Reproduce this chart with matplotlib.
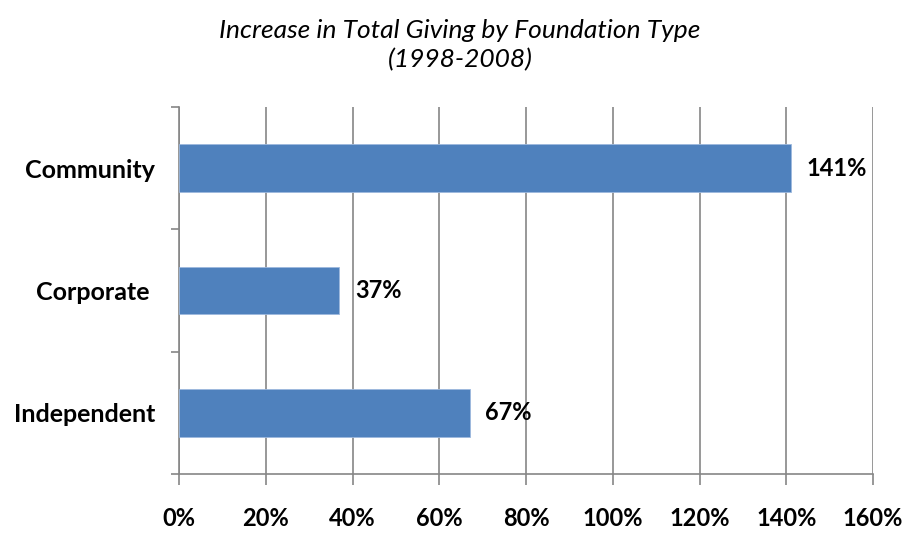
import matplotlib
matplotlib.use("Agg")
import matplotlib.pyplot as plt
from matplotlib.ticker import FixedLocator

categories = ["Community", "Corporate ", "Independent"]
values = [141, 37, 67]
value_labels = ["141%", "37%", "67%"]
xticks = [0, 20, 40, 60, 80, 100, 120, 140, 160]

plt.rcParams['font.family'] = ['Lato', 'DejaVu Sans']

fig = plt.figure(figsize=(9.09, 5.34), dpi=100)
ax = fig.add_axes([179/909, 1-474/534, (873-179)/909, (474-107)/534])

ypos = [2, 1, 0]
bar_color = "#4F81BD"
ax.barh(ypos, values, height=0.39, color=bar_color, edgecolor="#9DB9DE", linewidth=0.6, zorder=3)

for y, v, lab in zip(ypos, values, value_labels):
    ax.text(v + 3.6, y, lab, va="center", ha="left", fontsize=17, fontweight="bold", color="black")

ax.set_xlim(0, 160)
ax.set_ylim(-0.5, 2.5)
ax.set_xticks(xticks)
ax.set_xticklabels([f"{t}%" for t in xticks], fontsize=17, fontweight="bold")
ax.set_yticks(ypos)
ax.set_yticklabels(categories, fontsize=18, fontweight="bold")
ax.yaxis.set_minor_locator(FixedLocator([-0.5, 0.5, 1.5, 2.5]))

ax.tick_params(axis="y", which="major", length=0, pad=17)
ax.tick_params(axis="y", which="minor", length=6, width=1.2, color="#868686", direction="out")
ax.tick_params(axis="x", which="major", length=8, width=1.2, color="#868686", direction="out", pad=16)

ax.grid(axis="x", color="#868686", linewidth=1.2, zorder=0)
ax.set_axisbelow(True)
for s in ["top", "right"]:
    ax.spines[s].set_visible(False)
for s in ["left", "bottom"]:
    ax.spines[s].set_color("#868686")
    ax.spines[s].set_linewidth(1.2)

fig.text(460/909, 1-30/534, "Increase in Total Giving by Foundation Type", ha="center", va="center",
         fontsize=19, fontstyle="italic")
fig.text(460/909, 1-60/534, "(1998-2008)", ha="center", va="center",
         fontsize=19, fontstyle="italic")

fig.savefig("out.png", dpi=100)
